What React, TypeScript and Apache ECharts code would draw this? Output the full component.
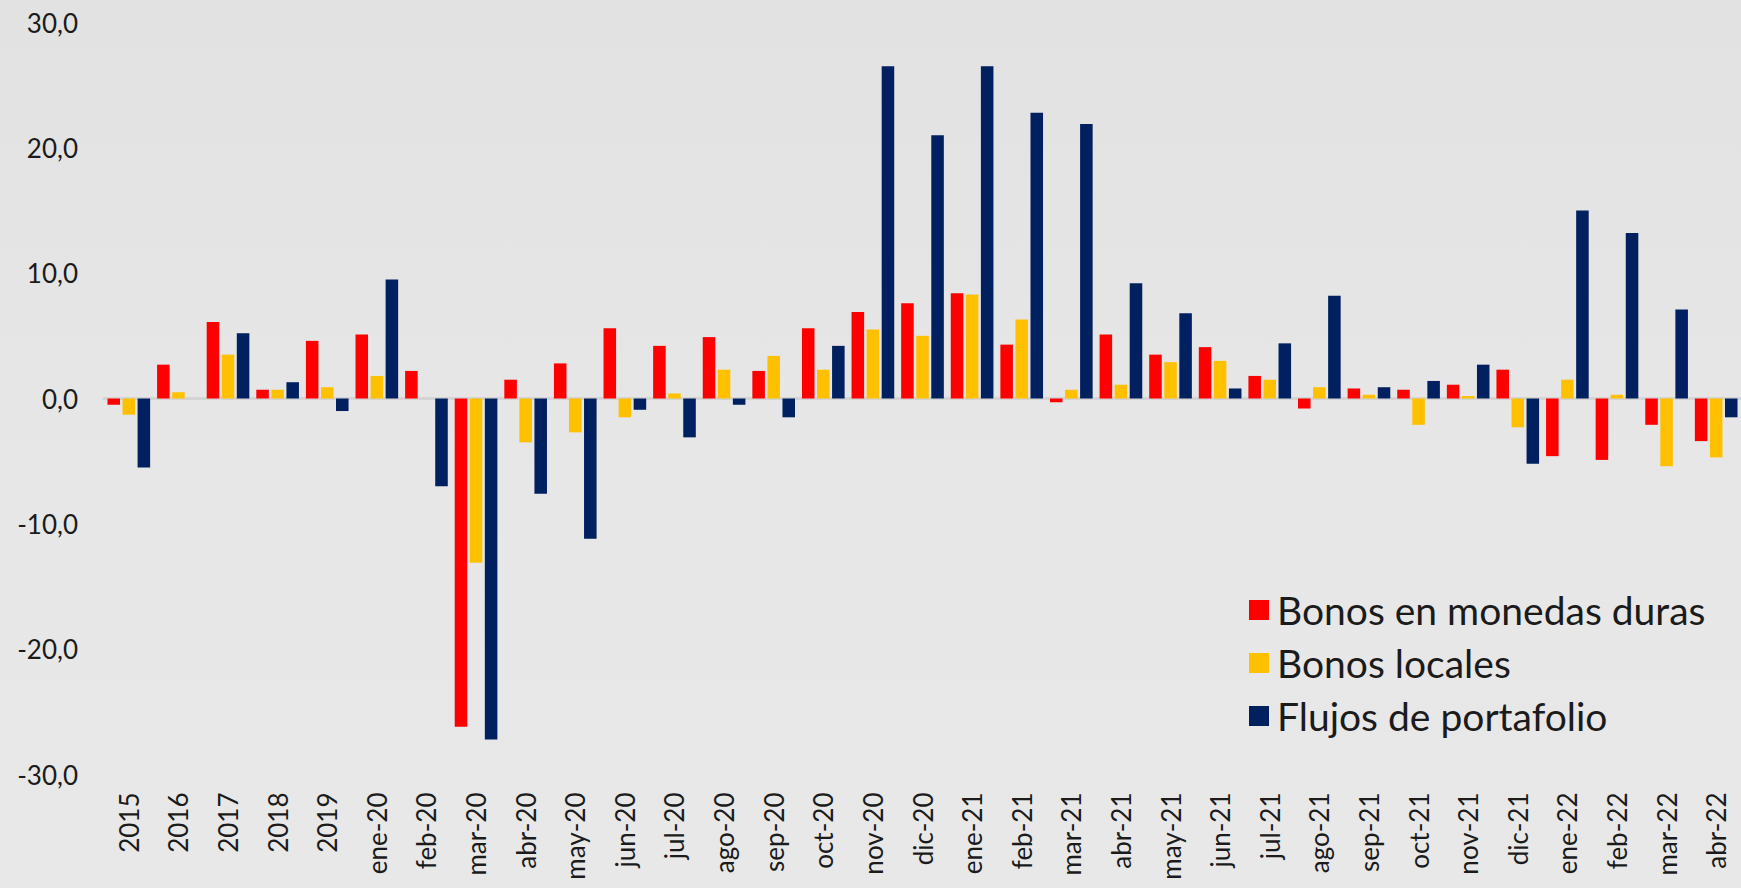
import React, { useEffect, useRef } from "react";
import * as echarts from "echarts";

// Category labels along the x axis
const categories: string[] = [
  "2015", "2016", "2017", "2018", "2019",
  "ene-20", "feb-20", "mar-20", "abr-20", "may-20", "jun-20", "jul-20",
  "ago-20", "sep-20", "oct-20", "nov-20", "dic-20",
  "ene-21", "feb-21", "mar-21", "abr-21", "may-21", "jun-21", "jul-21",
  "ago-21", "sep-21", "oct-21", "nov-21", "dic-21",
  "ene-22", "feb-22", "mar-22", "abr-22",
];

// Bonos en monedas duras
const bonosMonedasDuras: number[] = [
  -0.5, 2.7, 6.1, 0.7, 4.6,
  5.1, 2.2, -26.2, 1.5, 2.8, 5.6, 4.2, 4.9, 2.2, 5.6, 6.9, 7.6,
  8.4, 4.3, -0.3, 5.1, 3.5, 4.1, 1.8, -0.8, 0.8, 0.7, 1.1, 2.3,
  -4.6, -4.9, -2.1, -3.4,
];

// Bonos locales
const bonosLocales: number[] = [
  -1.3, 0.5, 3.5, 0.7, 0.9,
  1.8, 0, -13.1, -3.5, -2.7, -1.5, 0.4, 2.3, 3.4, 2.3, 5.5, 5.0,
  8.3, 6.3, 0.7, 1.1, 2.9, 3.0, 1.5, 0.9, 0.3, -2.1, 0.2, -2.3,
  1.5, 0.3, -5.4, -4.7,
];

// Flujos de portafolio
const flujosPortafolio: number[] = [
  -5.5, 0, 5.2, 1.3, -1.0,
  9.5, -7.0, -27.2, -7.6, -11.2, -0.9, -3.1, -0.5, -1.5, 4.2, 26.5, 21.0,
  26.5, 22.8, 21.9, 9.2, 6.8, 0.8, 4.4, 8.2, 0.9, 1.4, 2.7, -5.2,
  15.0, 13.2, 7.1, -1.5,
];

const seriesNames: string[] = [
  "Bonos en monedas duras",
  "Bonos locales",
  "Flujos de portafolio",
];

const FONT = "Lato, 'DejaVu Sans', sans-serif";
const TEXT_COLOR = "#1b1b1b";

export default function App() {
  const ref = useRef<HTMLDivElement | null>(null);

  useEffect(() => {
    if (!ref.current) return;
    const chart = echarts.init(ref.current, undefined, { renderer: "svg" });

    const colors = ["#ff0000", "#ffc000", "#002060"];
    const values = [bonosMonedasDuras, bonosLocales, flujosPortafolio];

    chart.setOption({
      animation: false,
      backgroundColor: {
        type: "linear",
        x: 0, y: 0, x2: 0, y2: 1,
        colorStops: [
          { offset: 0, color: "#e2e2e2" },
          { offset: 0.55, color: "#e7e7e7" },
          { offset: 1, color: "#e8e8e8" },
        ],
      },
      textStyle: { fontFamily: FONT },
      grid: { left: 104, top: 22.5, width: 1639, height: 752, containLabel: false },
      legend: {
        orient: "vertical",
        left: 1244,
        top: 585,
        icon: "rect",
        itemWidth: 20,
        itemHeight: 20,
        itemGap: 13,
        data: seriesNames,
        textStyle: {
          fontFamily: FONT,
          fontSize: 39,
          lineHeight: 40,
          color: TEXT_COLOR,
          padding: [0, 0, 0, 3],
        },
      },
      xAxis: [
        {
          type: "category",
          data: categories,
          axisLine: { show: false, onZero: false },
          axisTick: { show: false },
          axisLabel: {
            rotate: 90,
            margin: 18,
            interval: 0,
            fontSize: 26,
            fontFamily: FONT,
            color: TEXT_COLOR,
          },
          splitLine: { show: false },
        },
        {
          // zero baseline
          type: "category",
          data: categories,
          position: "bottom",
          axisLine: { show: true, onZero: true, lineStyle: { color: "#d4d4d4", width: 3 } },
          axisTick: { show: false },
          axisLabel: { show: false },
          splitLine: { show: false },
        },
      ],
      yAxis: {
        type: "value",
        min: -30,
        max: 30,
        interval: 10,
        axisLine: { show: false },
        axisTick: { show: false },
        splitLine: { show: false },
        axisLabel: {
          margin: 26,
          fontSize: 26,
          fontFamily: FONT,
          color: TEXT_COLOR,
          formatter: (v: number) => v.toFixed(1).replace(".", ","),
        },
      },
      series: seriesNames.map((name, i) => ({
        name,
        type: "bar",
        xAxisIndex: 0,
        data: values[i],
        barGap: "20%",
        barCategoryGap: "14%",
        itemStyle: { color: colors[i] },
      })),
    });

    return () => chart.dispose();
  }, []);

  return (
    <div
      ref={ref}
      style={{ position: "absolute", left: 0, top: 0, width: 1741, height: 888 }}
    />
  );
}
